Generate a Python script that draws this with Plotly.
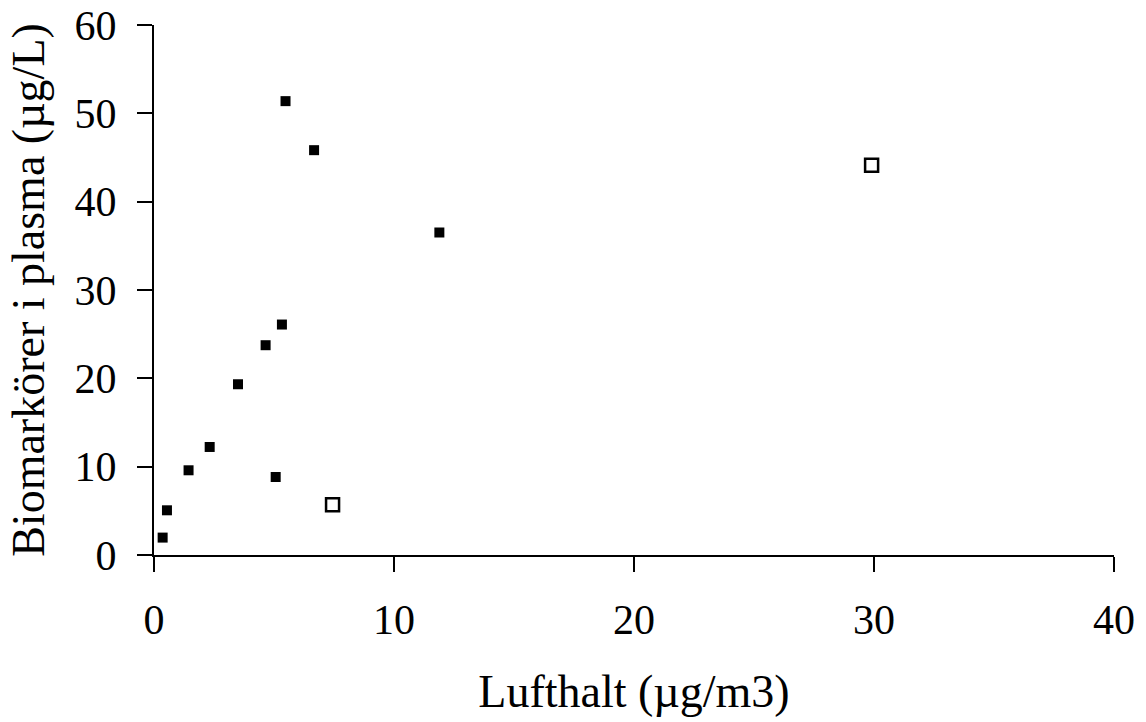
import plotly.graph_objects as go

# Filled squares
x_filled = [0.36, 0.54, 1.44, 2.32, 3.50, 4.65, 5.33, 5.07, 5.48, 6.67, 11.89]
y_filled = [1.97, 5.06, 9.59, 12.23, 19.33, 23.75, 26.09, 8.83, 51.38, 45.83, 36.51]

# Open squares
x_open = [7.44, 29.9]
y_open = [5.7, 44.13]

x_ticks = [0, 10, 20, 30, 40]
y_ticks = [0, 10, 20, 30, 40, 50, 60]

font_family = "Liberation Serif, Times New Roman, serif"

fig = go.Figure()
fig.add_trace(go.Scatter(
    x=x_filled, y=y_filled, mode="markers",
    marker=dict(symbol="square", size=10, color="black", line=dict(width=0)),
    showlegend=False, cliponaxis=False,
))
fig.add_trace(go.Scatter(
    x=x_open, y=y_open, mode="markers",
    marker=dict(symbol="square", size=13, color="white", line=dict(width=2.5, color="black")),
    showlegend=False, cliponaxis=False,
))

fig.update_layout(
    width=1146, height=722,
    margin=dict(l=154, r=32, t=25, b=167),
    paper_bgcolor="white", plot_bgcolor="white",
    font=dict(family=font_family, size=42, color="black"),
)
fig.update_xaxes(
    range=[0, 40], tickvals=x_ticks, ticktext=[str(v) for v in x_ticks],
    showline=True, linecolor="black", linewidth=2, showgrid=False, zeroline=False,
    ticks="outside", ticklen=15, tickwidth=2, tickcolor="black",
    ticklabelstandoff=12, automargin=False,
    title=dict(text="Lufthalt (µg/m3)", font=dict(size=46), standoff=32),
)
fig.update_yaxes(
    range=[0, 60], tickvals=y_ticks, ticktext=[str(v) for v in y_ticks],
    showline=True, linecolor="black", linewidth=2, showgrid=False, zeroline=False,
    ticks="outside", ticklen=15, tickwidth=2, tickcolor="black",
    ticklabelstandoff=12, automargin=False,
    title=dict(text="Biomarkörer i plasma (µg/L)", font=dict(size=46), standoff=15),
)

fig.write_html("out.html")
